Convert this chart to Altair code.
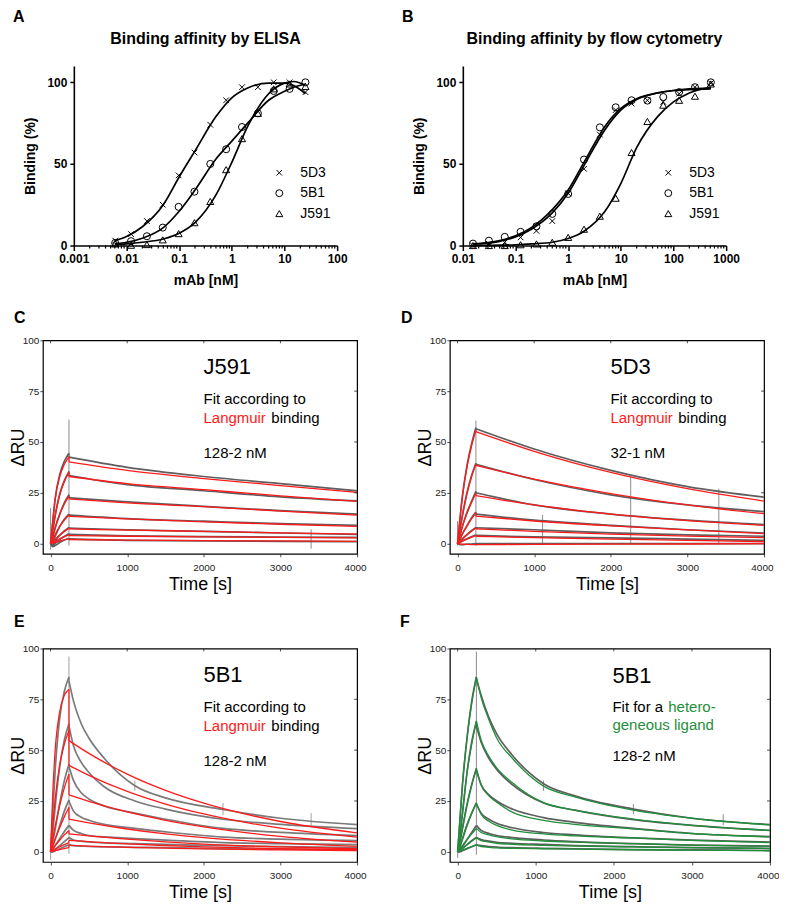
import math
import altair as alt
import pandas as pd

FONT = "Liberation Sans"
RED = "#ff1a1a"
GREEN = "#1f8f3a"
GREY = "#5e5e5e"
GREY_E = "#7a7a7a"

# ---------------- Panel A: ELISA ----------------
MABS = ["5D3", "5B1", "J591"]
ELISA_CONC = [0.0061, 0.0122, 0.0244, 0.0488, 0.0977, 0.195, 0.39, 0.78, 1.56, 3.125, 6.25, 12.5, 25]
ELISA_5D3 = [3, 7, 15, 25, 43, 57, 74, 89, 97, 97, 100, 100, 94]
ELISA_5B1 = [1.6, 2.7, 5.7, 11, 23.7, 33, 50, 59, 72.6, 81, 94.7, 96, 100]
ELISA_J591 = [1, 0.2, 0.6, 3.5, 7.3, 14, 27, 46.5, 65.5, 81, 96, 99, 97.5]
ELISA_FIT_X = [0.006, 0.01, 0.02, 0.05, 0.1, 0.2, 0.5, 1, 2, 5, 10, 15, 25]
ELISA_FIT_5D3 = [3, 5.5, 11.5, 25, 42, 58, 79, 90.5, 96.5, 99.5, 99.5, 98, 93]
ELISA_FIT_5B1 = [1, 2, 4.5, 11, 21, 34, 53, 64, 75, 89, 94.5, 97, 99]
ELISA_FIT_J591 = [0.5, 1, 2, 4, 7.5, 14, 31, 51, 73, 93, 99.5, 100.5, 98]
ELISA_TICKS = [0.001, 0.01, 0.1, 1, 10, 100]

# ---------------- Panel B: flow cytometry ----------------
FLOW_CONC = [0.0156, 0.0313, 0.0625, 0.125, 0.25, 0.5, 1, 2, 4, 8, 16, 32, 64, 128, 256, 512]
FLOW_5D3 = [0, 1, 2, 5, 9, 15, 32, 47, 68, 83, 87, 89, 88, 93, 97, 99.5]
FLOW_5B1 = [1.2, 3, 5.3, 8.4, 11.8, 19.4, 31.6, 52.7, 72.4, 84.7, 89, 88.8, 91, 94, 97, 100]
FLOW_J591 = [0, 0, 0, 0.5, 1, 2, 5, 10, 18, 29, 57, 76, 86, 89, 91.5, 99]
FLOW_FIT_X = [0.0156, 0.03, 0.05, 0.1, 0.2, 0.5, 1, 2, 5, 10, 20, 50, 100, 200, 512]
FLOW_FIT_5D3 = [0.8, 1.5, 2.6, 5.3, 10, 20, 32, 49, 71, 83, 89.5, 93.5, 95, 95.5, 96]
FLOW_FIT_5B1 = [1, 1.8, 3, 6, 11, 22, 34, 51, 73, 84, 90, 93.5, 95, 96, 96.5]
FLOW_FIT_J591 = [0, 0.1, 0.2, 0.5, 1, 2, 4.3, 8.8, 21, 38, 60, 79, 88, 93.5, 97]
FLOW_TICKS = [0.01, 0.1, 1, 10, 100, 1000]

# ---------------- Sensorgrams ----------------
T_ASSOC = [0, 30, 60, 120, 180, 240]
T_DISS_SLOW = [240, 1000, 2000, 3000, 4000]
T_DISS_FAST = [240, 300, 400, 500, 700, 1100, 1500, 2250, 3000, 4000]
TIME_TICKS = [0, 1000, 2000, 3000, 4000]
RU_TICKS = [0, 25, 50, 75, 100]

# C: J591, Langmuir
C_RAW_ASSOC = [[0, 11, 22, 34, 40.5, 44.4], [0, 6.5, 13.5, 24.5, 31, 35.5], [0, 3, 7.5, 14.5, 20, 24],
               [0, 1, 3.5, 8.5, 12, 14.5], [0, -0.5, 1.5, 4, 6.2, 8], [0, -1, 0, 2, 3.5, 4.8],
               [0, -1.5, -1, 0.5, 1.8, 2.5]]
C_RAW_DISS = [[42.5, 37.5, 33, 29.5, 26], [33.5, 29, 26, 23, 21], [22.5, 20.5, 18.3, 16.2, 14.5],
              [14, 12.3, 11, 9.8, 9], [7.6, 6.8, 6, 5.2, 4.5], [4.5, 3.8, 3.4, 3.2, 3], [2.3, 1.6, 1.3, 1.1, 1]]
C_FIT_ASSOC = [[0, 12, 22, 33, 39, 42.8], [0, 7.5, 14, 24, 30.5, 35], [0, 4, 8, 14.5, 19.5, 23.5],
               [0, 2.3, 4.5, 8.5, 11.5, 14.2], [0, 1.1, 2.2, 4.2, 6, 7.5], [0, 0.6, 1.2, 2.3, 3.4, 4.4],
               [0, 0.3, 0.6, 1.2, 1.8, 2.3]]
C_FIT_DISS = [[40.2, 36, 32, 28.5, 25.2], [33, 29.5, 26.5, 23.5, 20.8], [22, 20, 18.2, 16, 14],
              [13.4, 12.2, 10.7, 9.5, 8.5], [7.2, 6.6, 6, 5.3, 4.7], [3.9, 3.6, 3.3, 3.1, 2.8], [2, 1.7, 1.5, 1.3, 1.1]]
C_SPIKE_T = [0, 240, 3400]
C_SPIKE_LO = [-3, -1, -2.5]
C_SPIKE_HI = [17.5, 61, 7]

# D: 5D3, Langmuir
D_RAW_ASSOC = [[0, 11, 22, 37.5, 48.5, 57], [0, 6.5, 13, 24.5, 33, 39.5], [0, 3.5, 8, 15, 20.5, 25.7],
               [0, 2, 4.5, 8.5, 12.5, 15.5], [0, 1, 2.2, 4.3, 6.3, 8], [0, 0.5, 1.2, 2.3, 3.3, 4.2],
               [0, -0.5, -0.5, -0.3, -0.2, 0]]
D_RAW_DISS = [[56.5, 46.5, 36, 28, 22.8], [39, 31.5, 24, 19, 15.7], [25, 19, 14.5, 11.5, 9.3],
              [14.5, 11.5, 9, 6.8, 5.2], [7.8, 6.8, 5.3, 4.3, 3.6], [4, 3.3, 2.8, 2.2, 1.6], [0, 0, 0, 0, 0]]
D_FIT_ASSOC = [[0, 12, 22, 37, 47.5, 55.7], [0, 7, 13, 24, 32.5, 39], [0, 4, 8, 14.5, 20, 24.8],
               [0, 2.3, 4.5, 8.5, 12, 15], [0, 1.1, 2.2, 4.2, 6, 7.7], [0, 0.6, 1.2, 2.2, 3, 3.9],
               [0, -0.2, -0.3, -0.4, -0.5, -0.5]]
D_FIT_DISS = [[55.1, 45.4, 35, 27, 20.9], [38.5, 31.7, 24.6, 19, 14.7], [23.6, 19, 14.5, 11.3, 9],
              [13.5, 11.1, 8.7, 6.7, 4.9], [7.3, 6, 4.7, 3.7, 2.9], [3.6, 2.9, 2.2, 1.6, 1], [-0.5, -0.4, -0.3, -0.2, 0]]
D_SPIKE_T = [0, 240, 1110, 2260, 3410]
D_SPIKE_LO = [-1, -1, -0.5, -0.5, -0.5]
D_SPIKE_HI = [11, 60.5, 14, 33, 27]

# E: 5B1, Langmuir
E_RAW_ASSOC = [[0, 20, 40, 66, 79, 86], [0, 10, 22, 42, 55, 63], [0, 5, 11, 24, 35, 43],
               [0, 2.5, 6, 13, 20, 25.5], [0, 1, 3, 6.5, 10, 13], [0, 0.3, 1.2, 3, 5, 7], [0, 0, 0.5, 1.5, 2.5, 3.5]]
E_RAW_DISS = [[84, 74, 63, 56, 46, 32.5, 26.5, 20.8, 16.5, 13.4],
              [62, 52, 44, 39, 32, 25, 21, 16, 13.5, 11.4],
              [42, 35, 29, 26, 22.5, 19, 16, 11.5, 9.5, 8],
              [25, 20, 17, 15.5, 13.5, 11.5, 9.8, 7.2, 6.2, 5.5],
              [13, 10.5, 9, 8, 7.3, 6.5, 5.7, 4.5, 4, 3.5],
              [7, 5.8, 5.2, 4.8, 4.4, 4, 3.6, 3, 2.5, 2],
              [3.5, 3, 2.8, 2.6, 2.4, 2.2, 2, 1.6, 1.3, 1]]
E_FIT_ASSOC = [[0, 30, 50, 69, 77, 80], [0, 14, 26, 43, 53, 59.6], [0, 6.5, 12.5, 23, 31.5, 38.2],
               [0, 3.2, 6.3, 12, 17.3, 21.9], [0, 1.5, 3, 5.8, 8.3, 10.5], [0, 0.7, 1.3, 2.5, 3.5, 4.5],
               [0, 0.3, 0.6, 1.1, 1.6, 2]]
E_T_FIT_DISS = [240, 500, 1000, 1500, 2000, 3000, 4000]
E_FIT_DISS = [[54.7, 48.4, 38.2, 30.2, 23.9, 14.9, 9.3], [42.5, 37.6, 29.7, 23.5, 18.6, 11.6, 7.2],
              [28, 24.8, 19.6, 15.5, 12.2, 7.6, 4.8], [16, 14.2, 11.2, 8.8, 7, 4.4, 2.7],
              [8.8, 7.8, 6.2, 4.9, 3.8, 2.4, 1.5], [5.6, 5, 3.9, 3.1, 2.4, 1.5, 1],
              [3.2, 2.8, 2.2, 1.8, 1.4, 0.9, 0.55]]
E_SPIKE_T = [0, 240, 1100, 2250, 3400]
E_SPIKE_LO = [-4, -1, 30, 18, 13]
E_SPIKE_HI = [2, 96, 35, 24, 19]

# F: 5B1, heterogeneous ligand
F_RAW_ASSOC = [[0, 16, 32, 56, 74, 86], [0, 8, 18, 39, 54, 64], [0, 5, 11, 23, 33, 41],
               [0, 2.5, 6, 13, 19, 24], [0, 1, 2.5, 6, 9.5, 13], [0, 0.5, 1.5, 3.5, 5.5, 7], [0, 0, 0.5, 1.5, 2.5, 3.5]]
F_RAW_DISS = [[85, 77, 66, 58, 47.5, 33.5, 27.5, 21, 16.5, 13.4],
              [62, 54, 46, 40.5, 33, 24, 20.5, 15.8, 13, 10.5],
              [40, 33, 28, 25, 21, 16.8, 14.5, 11.5, 9, 7.5],
              [23.5, 19, 16, 14, 11.8, 9.5, 8.3, 6.8, 5.7, 4.8],
              [13, 10.5, 9, 8, 7, 5.8, 5, 4, 3.3, 2.8],
              [7, 6, 5.2, 4.7, 4.2, 3.6, 3.1, 2.5, 2, 1.7],
              [3.4, 3, 2.6, 2.3, 2, 1.7, 1.5, 1.1, 0.9, 0.6]]
F_FIT_ASSOC = [[0, 17, 33, 56, 73, 86], [0, 9, 19, 39, 53, 64.4], [0, 5.5, 11.5, 23.5, 33, 41],
               [0, 3, 6.5, 13.5, 19, 24], [0, 1.5, 3, 6, 8.8, 11.5], [0, 0.8, 1.7, 3.5, 5.2, 6.9],
               [0, 0.4, 0.8, 1.7, 2.6, 3.4]]
F_FIT_DISS = [[86, 76, 65, 56, 46, 32.3, 27, 20.5, 16.5, 13.2],
              [64.4, 55, 47, 41.3, 34, 24.2, 20.5, 16.1, 13, 10.5],
              [41, 33, 27.5, 24.4, 19.5, 15.5, 13.5, 11.3, 9, 7.3],
              [24, 18.5, 15, 13, 10.6, 8.8, 7.8, 6.8, 5.6, 4.5],
              [11.5, 9.5, 8.3, 7.4, 6.3, 5.3, 4.7, 4, 3.3, 2.7],
              [6.9, 5.5, 4.8, 4.2, 3.7, 3.2, 2.8, 2.4, 2, 1.6],
              [3.4, 2.6, 2.2, 1.9, 1.7, 1.5, 1.3, 1.0, 0.8, 0.5]]
F_SPIKE_T = [0, 240, 1100, 2250, 3400]
F_SPIKE_LO = [-3, -1.5, 30, 18.5, 13]
F_SPIKE_HI = [2, 98.5, 35, 23.5, 18.5]


def label(text, x, y, size=15, color="black", weight="normal", align="left", baseline="middle"):
    return alt.Chart(pd.DataFrame({"t": [text]})).mark_text(
        font=FONT, fontSize=size, color=color, fontWeight=weight, align=align, baseline=baseline
    ).encode(x=alt.value(x), y=alt.value(y), text="t:N")


XSHAPE = "M-0.8,-0.8L0.8,0.8M-0.8,0.8L0.8,-0.8"
SHAPE_SCALE = alt.Scale(domain=MABS, range=[XSHAPE, "circle", "triangle-up"])


def dose_panel(letter, off, title, xdomain, ticks, conc, pts, fit_x, fits):
    # off: horizontal inset of the plot inside its grid cell
    PW, H = 264, 180
    W = PW + off
    xs = alt.Scale(type="log", domain=xdomain, nice=False, range=[off, W])
    ys = alt.Scale(domain=[0, 110], nice=False, zero=False)
    xaxis = alt.Axis(values=ticks, format="~g", title="mAb [nM]", domainColor="black", domainWidth=1.6,
                     tickColor="black", tickWidth=1.5, tickSize=5, labelFont=FONT, labelFontSize=12,
                     labelFontWeight="bold", labelColor="black", labelPadding=3, titleFont=FONT,
                     titleFontSize=14, titleFontWeight="bold", titleColor="black", titlePadding=9,
                     titleX=off + PW / 2, grid=False, labelOverlap=False, labelFlush=False)
    yaxis = alt.Axis(values=[0, 50, 100], title="Binding (%)", domainColor="black", domainWidth=1.6,
                     tickColor="black", tickWidth=1.5, tickSize=4, labelFont=FONT, labelFontSize=12,
                     labelFontWeight="bold", labelColor="black", labelPadding=3, titleFont=FONT,
                     titleFontSize=14, titleFontWeight="bold", titleColor="black", titlePadding=9,
                     offset=-off, grid=False)
    prow = []
    for name, vals in zip(MABS, pts):
        for c, v in zip(conc, vals):
            prow.append({"conc": c, "binding": v, "mAb": name})
    frow = []
    for name, vals in zip(MABS, fits):
        for c, v in zip(fit_x, vals):
            frow.append({"conc": c, "binding": v, "mAb": name})
    minor = []
    lo = int(round(math.log10(xdomain[0])))
    hi = int(round(math.log10(xdomain[1])))
    for e in range(lo, hi):
        for m in range(2, 10):
            minor.append({"v": m * 10.0 ** e})

    legend = alt.Legend(title=None, orient="none", legendX=off + 199, legendY=100, labelFont=FONT,
                        labelFontSize=14, labelColor="black", symbolStrokeColor="black",
                        symbolStrokeWidth=1, symbolSize=48, rowPadding=6.5, labelOffset=14, padding=0)
    points = alt.Chart(pd.DataFrame(prow)).mark_point(filled=False, color="black", strokeWidth=1,
                                                      size=50, opacity=1).encode(
        x=alt.X("conc:Q", scale=xs, axis=xaxis),
        y=alt.Y("binding:Q", scale=ys, axis=yaxis),
        shape=alt.Shape("mAb:N", scale=SHAPE_SCALE, legend=legend),
    )
    curves = alt.Chart(pd.DataFrame(frow)).mark_line(color="black", strokeWidth=1.7,
                                                     interpolate="monotone").encode(
        x=alt.X("conc:Q", scale=xs, axis=xaxis),
        y=alt.Y("binding:Q", scale=ys, axis=yaxis),
        detail="mAb:N",
    )
    minor_ticks = alt.Chart(pd.DataFrame(minor)).mark_rule(color="black", strokeWidth=1.2).encode(
        x=alt.X("v:Q", scale=xs, axis=xaxis), y=alt.value(H), y2=alt.value(H + 3)
    )
    return alt.layer(
        curves, points, minor_ticks,
        label(title, off + PW / 2, -27, size=16, weight="bold", align="center"),
        label(letter, off - 61, -49, size=16, weight="bold"),
    ).properties(width=W, height=H)


def seg_df(t_assoc, assoc, t_diss, diss):
    rows = []
    for i, (a, d) in enumerate(zip(assoc, diss)):
        for t, v in zip(t_assoc, a):
            rows.append({"t": t, "ru": v, "key": f"{i}a"})
        for t, v in zip(t_diss, d):
            rows.append({"t": t, "ru": v, "key": f"{i}d"})
    return pd.DataFrame(rows)


def jump_df(t_assoc, assoc, diss):
    return pd.DataFrame([{"t": t_assoc[-1], "ru": a[-1], "ru2": d[0]} for a, d in zip(assoc, diss)])


def sensorgram(W, H, letter, letter_x, letter_y, raw_a, raw_d, t_raw_d, fit_a, fit_d, t_fit_d,
               fit_color, grey, spikes, texts):
    xs = alt.Scale(domain=[-100, 4000], nice=False, zero=False)
    ys = alt.Scale(domain=[-5, 100], nice=False, zero=False)
    xaxis = alt.Axis(values=TIME_TICKS, format="d", title="Time [s]", domain=False, tickColor="#222",
                     tickWidth=0.8, tickSize=3, labelFont=FONT, labelFontSize=10, labelColor="#222",
                     labelPadding=6, titleFont=FONT, titleFontSize=18, titleFontWeight="normal",
                     titleColor="black", titlePadding=3, grid=False, labelOverlap=False,
                     labelFlush=True, labelFlushOffset=9)
    yaxis = alt.Axis(values=RU_TICKS, format="d", title="ΔRU", domain=False, tickColor="#222", tickWidth=0.8,
                     tickSize=3, labelFont=FONT, labelFontSize=10, labelColor="#222", labelPadding=1,
                     titleFont=FONT, titleFontSize=18, titleFontWeight="normal", titleColor="black",
                     titlePadding=-5, grid=False, labelOverlap=False)
    X = alt.X("t:Q", scale=xs, axis=xaxis)
    Y = alt.Y("ru:Q", scale=ys, axis=yaxis)
    raw = alt.Chart(seg_df(T_ASSOC, raw_a, t_raw_d, raw_d)).mark_line(
        color=grey, strokeWidth=1.7, interpolate="monotone", clip=True).encode(x=X, y=Y, detail="key:N")
    raw_jump = alt.Chart(jump_df(T_ASSOC, raw_a, raw_d)).mark_rule(color=grey, strokeWidth=1.2).encode(
        x=X, y=Y, y2="ru2:Q")
    st, slo, shi = spikes
    spike = alt.Chart(pd.DataFrame({"t": st, "ru": slo, "ru2": shi})).mark_rule(
        color=grey, strokeWidth=0.9, opacity=0.8, clip=True).encode(x=X, y=Y, y2="ru2:Q")
    fit = alt.Chart(seg_df(T_ASSOC, fit_a, t_fit_d, fit_d)).mark_line(
        color=fit_color, strokeWidth=1.3, interpolate="monotone", clip=True).encode(x=X, y=Y, detail="key:N")
    fit_jump = alt.Chart(jump_df(T_ASSOC, fit_a, fit_d)).mark_rule(color=fit_color, strokeWidth=1.2).encode(
        x=X, y=Y, y2="ru2:Q")
    top_ticks = alt.Chart(pd.DataFrame({"t": TIME_TICKS[:-1]})).mark_rule(color="#222", strokeWidth=0.8).encode(
        x=X, y=alt.value(0), y2=alt.value(3))
    right_ticks = alt.Chart(pd.DataFrame({"ru": RU_TICKS[1:-1]})).mark_rule(color="#222", strokeWidth=0.8).encode(
        y=Y, x=alt.value(W), x2=alt.value(W - 3))
    layers = [raw, raw_jump, spike, fit, fit_jump, top_ticks, right_ticks,
              label(letter, letter_x, letter_y, size=16, weight="bold")]
    for (txt, x, y, size, color) in texts:
        layers.append(label(txt, x, y, size=size, color=color))
    return alt.layer(*layers).properties(
        width=W, height=H, view=alt.ViewBackground(stroke="black", strokeWidth=1.2))


A = dose_panel("A", 31, "Binding affinity by ELISA", [0.001, 100], ELISA_TICKS, ELISA_CONC,
               [ELISA_5D3, ELISA_5B1, ELISA_J591], ELISA_FIT_X, [ELISA_FIT_5D3, ELISA_FIT_5B1, ELISA_FIT_J591])
B = dose_panel("B", 13, "Binding affinity by flow cytometry", [0.01, 1000], FLOW_TICKS, FLOW_CONC,
               [FLOW_5D3, FLOW_5B1, FLOW_J591], FLOW_FIT_X, [FLOW_FIT_5D3, FLOW_FIT_5B1, FLOW_FIT_J591])

C = sensorgram(315, 214, "C", -29, -22, C_RAW_ASSOC, C_RAW_DISS, T_DISS_SLOW, C_FIT_ASSOC, C_FIT_DISS,
               T_DISS_SLOW, RED, GREY, (C_SPIKE_T, C_SPIKE_LO, C_SPIKE_HI),
               [("J591", 161, 27, 22, "black"), ("Fit according to", 161, 59, 15, "black"),
                ("Langmuir", 161, 78, 15, RED), ("binding", 229, 78, 15, "black"),
                ("128-2 nM", 161, 113, 15, "black")])
D = sensorgram(315, 214, "D", -49, -22, D_RAW_ASSOC, D_RAW_DISS, T_DISS_SLOW, D_FIT_ASSOC, D_FIT_DISS,
               T_DISS_SLOW, RED, GREY, (D_SPIKE_T, D_SPIKE_LO, D_SPIKE_HI),
               [("5D3", 161, 27, 22, "black"), ("Fit according to", 161, 59, 15, "black"),
                ("Langmuir", 161, 78, 15, RED), ("binding", 229, 78, 15, "black"),
                ("32-1 nM", 161, 113, 15, "black")])
E = sensorgram(315, 214, "E", -29, -27, E_RAW_ASSOC, E_RAW_DISS, T_DISS_FAST, E_FIT_ASSOC, E_FIT_DISS,
               E_T_FIT_DISS, RED, GREY_E, (E_SPIKE_T, E_SPIKE_LO, E_SPIKE_HI),
               [("5B1", 161, 27, 22, "black"), ("Fit according to", 161, 59, 15, "black"),
                ("Langmuir", 161, 78, 15, RED), ("binding", 229, 78, 15, "black"),
                ("128-2 nM", 161, 113, 15, "black")])
F = sensorgram(321, 214, "F", -50, -27, F_RAW_ASSOC, F_RAW_DISS, T_DISS_FAST, F_FIT_ASSOC, F_FIT_DISS,
               T_DISS_FAST, GREEN, GREY, (F_SPIKE_T, F_SPIKE_LO, F_SPIKE_HI),
               [("5B1", 163, 28, 22, "black"), ("Fit for a", 163, 59, 15, "black"),
                ("hetero-", 219, 59, 15, GREEN), ("geneous ligand", 163, 77, 15, GREEN),
                ("128-2 nM", 163, 108, 15, "black")])

chart = alt.concat(
    A, B, C, D, E, F, columns=2, spacing={"row": 95, "column": 93}, bounds="flush"
).resolve_scale(
    shape="independent"
).properties(
    padding={"left": 0, "top": 0, "right": -1, "bottom": -2}
).configure(font=FONT, background="white").configure_view(stroke="transparent", strokeWidth=0)

chart.save("out.html", embed_options={"renderer": "svg", "actions": False})
